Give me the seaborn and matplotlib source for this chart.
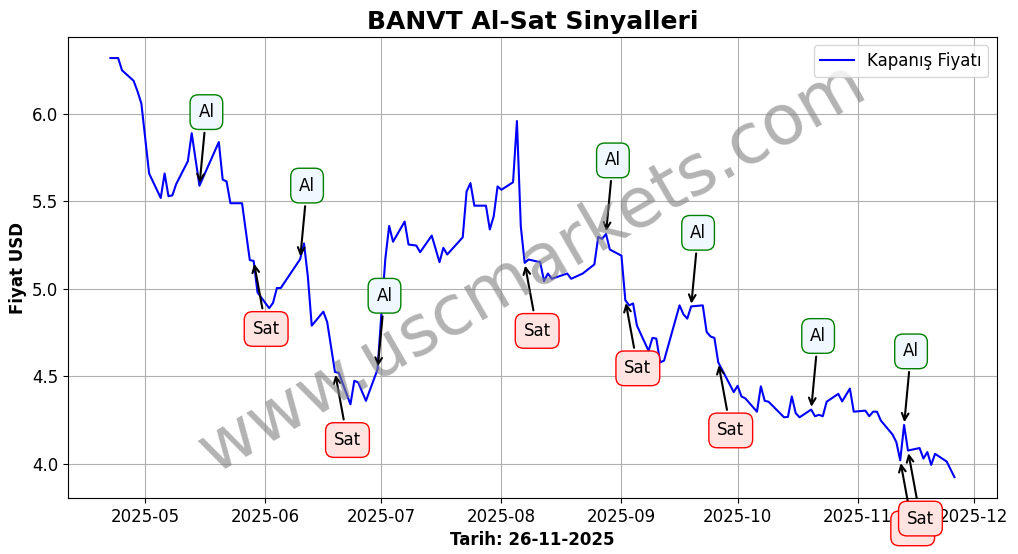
#BANVT al-sat sinyalleri grafigi
import pandas as pd
import matplotlib
matplotlib.use('Agg')
import matplotlib.pyplot as plt
import matplotlib.dates as mdates
import seaborn as sb

#kapanis fiyatlari
tarihler = ['2025-04-22', '2025-04-24', '2025-04-25', '2025-04-28', '2025-04-29', '2025-04-30',
            '2025-05-02', '2025-05-05', '2025-05-06', '2025-05-07', '2025-05-08', '2025-05-09',
            '2025-05-12', '2025-05-13', '2025-05-15', '2025-05-20', '2025-05-21', '2025-05-22',
            '2025-05-23', '2025-05-26', '2025-05-28', '2025-05-29', '2025-05-30', '2025-06-02',
            '2025-06-03', '2025-06-04', '2025-06-05', '2025-06-10', '2025-06-11', '2025-06-12',
            '2025-06-13', '2025-06-16', '2025-06-17', '2025-06-19', '2025-06-20', '2025-06-23',
            '2025-06-24', '2025-06-25', '2025-06-27', '2025-06-30', '2025-07-01', '2025-07-02',
            '2025-07-03', '2025-07-04', '2025-07-07', '2025-07-08', '2025-07-10', '2025-07-11',
            '2025-07-14', '2025-07-16', '2025-07-17', '2025-07-18', '2025-07-22', '2025-07-23',
            '2025-07-24', '2025-07-25', '2025-07-28', '2025-07-29', '2025-07-30', '2025-07-31',
            '2025-08-01', '2025-08-04', '2025-08-05', '2025-08-06', '2025-08-07', '2025-08-08',
            '2025-08-11', '2025-08-12', '2025-08-13', '2025-08-14', '2025-08-18', '2025-08-19',
            '2025-08-22', '2025-08-25', '2025-08-26', '2025-08-27', '2025-08-28', '2025-08-29',
            '2025-09-01', '2025-09-02', '2025-09-03', '2025-09-04', '2025-09-05', '2025-09-08',
            '2025-09-09', '2025-09-10', '2025-09-11', '2025-09-12', '2025-09-16', '2025-09-17',
            '2025-09-18', '2025-09-19', '2025-09-22', '2025-09-23', '2025-09-24', '2025-09-25',
            '2025-09-26', '2025-09-30', '2025-10-01', '2025-10-02', '2025-10-03', '2025-10-06',
            '2025-10-07', '2025-10-08', '2025-10-09', '2025-10-13', '2025-10-14', '2025-10-15',
            '2025-10-16', '2025-10-17', '2025-10-20', '2025-10-21', '2025-10-22', '2025-10-23',
            '2025-10-24', '2025-10-27', '2025-10-28', '2025-10-30', '2025-10-31', '2025-11-03',
            '2025-11-04', '2025-11-05', '2025-11-06', '2025-11-07', '2025-11-10', '2025-11-11',
            '2025-11-12', '2025-11-13', '2025-11-14', '2025-11-17', '2025-11-18', '2025-11-19',
            '2025-11-20', '2025-11-21', '2025-11-24', '2025-11-26']
fiyatlar = [6.32, 6.32, 6.25, 6.19, 6.13, 6.06,
            5.66, 5.52, 5.66, 5.53, 5.535, 5.60,
            5.73, 5.89, 5.59, 5.84, 5.625, 5.615,
            5.49, 5.49, 5.165, 5.16, 4.98, 4.89,
            4.92, 5.005, 5.005, 5.17, 5.26, 5.07,
            4.79, 4.87, 4.81, 4.525, 4.52, 4.34,
            4.475, 4.465, 4.36, 4.54, 4.86, 5.17,
            5.36, 5.27, 5.385, 5.254, 5.248, 5.21,
            5.305, 5.153, 5.235, 5.197, 5.295, 5.557,
            5.605, 5.476, 5.476, 5.34, 5.415, 5.586,
            5.567, 5.61, 5.96, 5.358, 5.149, 5.168,
            5.153, 5.045, 5.088, 5.058, 5.088, 5.058,
            5.088, 5.14, 5.297, 5.286, 5.314, 5.225,
            5.19, 4.935, 4.906, 4.917, 4.79, 4.646,
            4.72, 4.716, 4.58, 4.59, 4.906, 4.855,
            4.83, 4.90, 4.906, 4.754, 4.728, 4.72,
            4.58, 4.41, 4.446, 4.385, 4.374, 4.298,
            4.443, 4.36, 4.355, 4.266, 4.268, 4.385,
            4.29, 4.266, 4.31, 4.272, 4.28, 4.272,
            4.355, 4.40, 4.357, 4.43, 4.298, 4.304,
            4.272, 4.298, 4.298, 4.247, 4.168, 4.124,
            4.02, 4.222, 4.076, 4.09, 4.03, 4.067,
            3.994, 4.057, 4.013, 3.924]

#sinyal tarihleri
al_tarihleri = ['2025-05-15', '2025-06-10', '2025-06-30', '2025-08-28',
                '2025-09-19', '2025-10-20', '2025-11-13']
sat_tarihleri = ['2025-05-29', '2025-06-19', '2025-08-07', '2025-09-02',
                 '2025-09-26', '2025-11-12', '2025-11-14']

df = pd.DataFrame({'date': pd.to_datetime(tarihler), 'close': fiyatlar})
fiyat = df.set_index('date')['close']

fig, ax = plt.subplots(figsize=(10.18, 5.54), dpi=100)
fig.subplots_adjust(left=0.067, right=0.979, top=0.933, bottom=0.101)

sb.lineplot(data=df, x='date', y='close', color='blue', linewidth=1.5,
            label='Kapanış Fiyatı', ax=ax)

#al sinyalleri
for t in al_tarihleri:
    t = pd.Timestamp(t)
    ax.annotate('Al', xy=(t, fiyat[t]), xytext=(5, 53), textcoords='offset points',
                ha='center', va='center', fontsize=12,
                bbox=dict(boxstyle='round,pad=0.5', fc='aliceblue', ec='green'),
                arrowprops=dict(arrowstyle='->', color='black', lw=1.5))

#sat sinyalleri
for t in sat_tarihleri:
    t = pd.Timestamp(t)
    ax.annotate('Sat', xy=(t, fiyat[t]), xytext=(9, -49), textcoords='offset points',
                ha='center', va='center', fontsize=12,
                bbox=dict(boxstyle='round,pad=0.5', fc='mistyrose', ec='red'),
                arrowprops=dict(arrowstyle='->', color='black', lw=1.5))

#filigran
ax.text(0.5, 0.5, 'www.uscmarkets.com', transform=ax.transAxes, fontsize=50,
        color='gray', alpha=0.6, rotation=30, ha='center', va='center')

ax.xaxis.set_major_locator(mdates.MonthLocator())
ax.xaxis.set_major_formatter(mdates.DateFormatter('%Y-%m'))
ax.tick_params(labelsize=12)
ax.grid(True)
ax.set_title('BANVT Al-Sat Sinyalleri', fontsize=18, fontweight='bold')
ax.set_xlabel('Tarih: 26-11-2025', fontsize=12, fontweight='bold')
ax.set_ylabel('Fiyat USD', fontsize=12, fontweight='bold')
ax.legend(loc='upper right', fontsize=12)

plt.savefig('out.png', dpi=100)
